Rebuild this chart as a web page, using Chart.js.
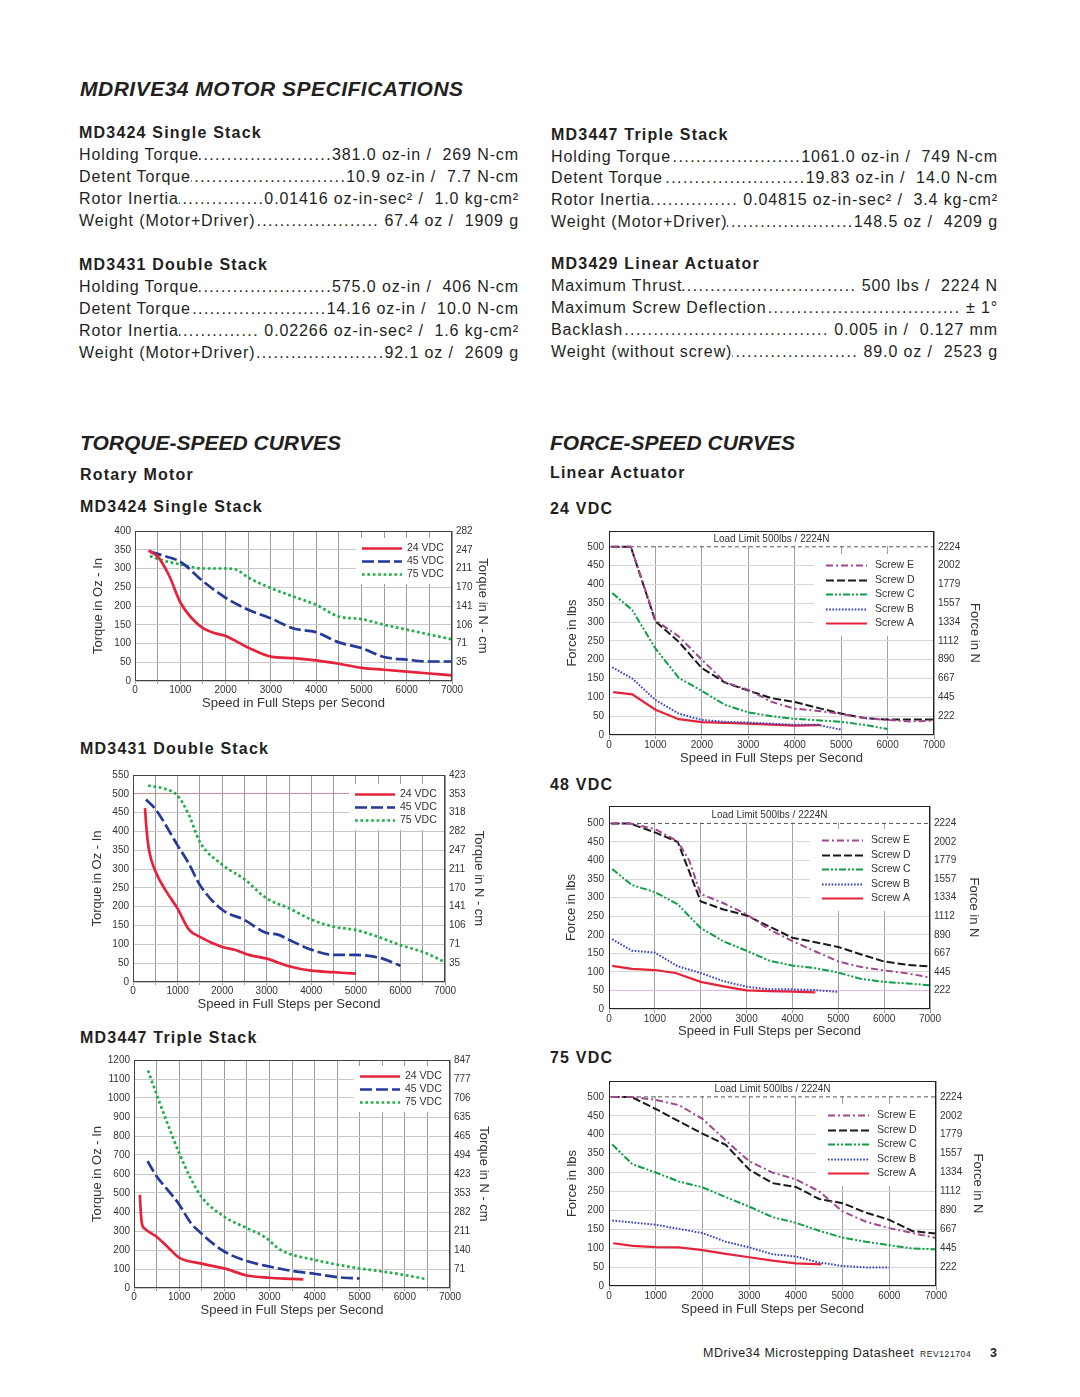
<!DOCTYPE html>
<html>
<head>
<meta charset="utf-8">
<title>MDrive34 Motor Specifications</title>
<script src="https://cdn.jsdelivr.net/npm/chart.js@4/dist/chart.umd.min.js"></script>
<style>
  body { margin: 0; width: 1080px; height: 1397px; position: relative; background: #fff;
         font-family: 'Liberation Sans', Arial, Helvetica, sans-serif; color: #231f20; }
  .abs { position: absolute; white-space: pre; }
  .h1 { font-style: italic; font-weight: bold; font-size: 21px; line-height: 25px; }
  .h2 { font-weight: bold; font-size: 16px; line-height: 19px; letter-spacing: 1.2px; }
  .row { position: absolute; display: flex; font-size: 16px; line-height: 19px; letter-spacing: 0.9px; white-space: pre; }
  .row.l { left: 79px; width: 440px; }
  .row.r { left: 551px; width: 447px; }
  .lead { flex: 1; overflow: hidden; direction: rtl; white-space: nowrap; letter-spacing: 1.4px; }
  .lead::before { content: '................................................................................'; }
  canvas { position: absolute; }
</style>
</head>
<body>

<div class="abs h1" style="left:80px;top:76px;letter-spacing:0.5px">MDRIVE34 MOTOR SPECIFICATIONS</div>

<div class="abs h2" style="left:79px;top:123px">MD3424 Single Stack</div>
<div class="row l" style="top:145px"><span>Holding Torque</span><span class="lead"></span><span>381.0 oz-in /  269 N-cm</span></div>
<div class="row l" style="top:167px"><span>Detent Torque</span><span class="lead"></span><span>10.9 oz-in /  7.7 N-cm</span></div>
<div class="row l" style="top:189px"><span>Rotor Inertia</span><span class="lead"></span><span>0.01416 oz-in-sec² /  1.0 kg-cm²</span></div>
<div class="row l" style="top:211px"><span>Weight (Motor+Driver)</span><span class="lead"></span><span> 67.4 oz /  1909 g</span></div>

<div class="abs h2" style="left:79px;top:255px">MD3431 Double Stack</div>
<div class="row l" style="top:277px"><span>Holding Torque</span><span class="lead"></span><span>575.0 oz-in /  406 N-cm</span></div>
<div class="row l" style="top:299px"><span>Detent Torque</span><span class="lead"></span><span>14.16 oz-in /  10.0 N-cm</span></div>
<div class="row l" style="top:321px"><span>Rotor Inertia</span><span class="lead"></span><span> 0.02266 oz-in-sec² /  1.6 kg-cm²</span></div>
<div class="row l" style="top:343px"><span>Weight (Motor+Driver)</span><span class="lead"></span><span>92.1 oz /  2609 g</span></div>

<div class="abs h2" style="left:551px;top:125px">MD3447 Triple Stack</div>
<div class="row r" style="top:147px"><span>Holding Torque</span><span class="lead"></span><span>1061.0 oz-in /  749 N-cm</span></div>
<div class="row r" style="top:168px"><span>Detent Torque</span><span class="lead"></span><span>19.83 oz-in /  14.0 N-cm</span></div>
<div class="row r" style="top:190px"><span>Rotor Inertia</span><span class="lead"></span><span> 0.04815 oz-in-sec² /  3.4 kg-cm²</span></div>
<div class="row r" style="top:212px"><span>Weight (Motor+Driver)</span><span class="lead"></span><span>148.5 oz /  4209 g</span></div>

<div class="abs h2" style="left:551px;top:254px">MD3429 Linear Actuator</div>
<div class="row r" style="top:276px"><span>Maximum Thrust</span><span class="lead"></span><span> 500 lbs /  2224 N</span></div>
<div class="row r" style="top:298px"><span>Maximum Screw Deflection</span><span class="lead"></span><span> ± 1°</span></div>
<div class="row r" style="top:320px"><span>Backlash</span><span class="lead"></span><span> 0.005 in /  0.127 mm</span></div>
<div class="row r" style="top:342px"><span>Weight (without screw)</span><span class="lead"></span><span> 89.0 oz /  2523 g</span></div>

<div class="abs h1" style="left:80px;top:430px">TORQUE-SPEED CURVES</div>
<div class="abs h2" style="left:80px;top:465px">Rotary Motor</div>
<div class="abs h2" style="left:80px;top:497px">MD3424 Single Stack</div>
<div class="abs h2" style="left:80px;top:739px">MD3431 Double Stack</div>
<div class="abs h2" style="left:80px;top:1028px">MD3447 Triple Stack</div>

<div class="abs h1" style="left:550px;top:430px">FORCE-SPEED CURVES</div>
<div class="abs h2" style="left:550px;top:463px">Linear Actuator</div>
<div class="abs h2" style="left:550px;top:499px">24 VDC</div>
<div class="abs h2" style="left:550px;top:775px">48 VDC</div>
<div class="abs h2" style="left:550px;top:1048px">75 VDC</div>

<canvas id="c3424" width="407" height="195" style="left:87px;top:520px"></canvas>
<canvas id="c3431" width="404" height="252" style="left:86px;top:764px"></canvas>
<canvas id="c3447" width="409" height="273" style="left:86px;top:1049px"></canvas>
<canvas id="f24" width="425" height="250" style="left:561px;top:520px"></canvas>
<canvas id="f48" width="425" height="248" style="left:560px;top:795px"></canvas>
<canvas id="f75" width="428" height="251" style="left:561px;top:1070px"></canvas>

<div class="abs" style="left:703px;top:1346px;font-size:12.5px;letter-spacing:0.5px">MDrive34 Microstepping Datasheet</div>
<div class="abs" style="left:920px;top:1349px;font-size:8.5px;letter-spacing:0.6px">REV121704</div>
<div class="abs" style="left:990px;top:1346px;font-size:12.5px;font-weight:bold">3</div>

<script>
// ---- torque data: [speed in full steps/s, torque in oz-in] ----
const md3424At24 = [[300,348],[500,332],[750,282],[1000,210],[1250,168],[1500,141],[1750,128],[2000,120],[2500,89],[3000,65],[3500,61],[4000,55],[4500,46],[5000,35],[5500,30],[6000,25],[6500,20],[7000,15]];
const md3424At45 = [[330,345],[600,335],[1000,318],[1500,266],[2000,222],[2500,190],[3000,167],[3500,140],[4000,130],[4500,103],[5000,88],[5500,64],[6000,57],[6500,52],[7000,52]];
const md3424At75 = [[330,333],[600,322],[1000,311],[1500,300],[2000,300],[2250,296],[2500,276],[3000,248],[3500,225],[4000,203],[4500,172],[5000,165],[5500,150],[6000,137],[6500,124],[7000,111]];

const md3431At24 = [[270,462],[300,410],[360,350],[500,295],[750,240],[1000,195],[1250,140],[1500,120],[2000,93],[2300,85],[2600,72],[3000,62],[3500,42],[4000,30],[4500,26],[5000,22]];
const md3431At45 = [[290,485],[500,460],[1000,363],[1250,315],[1500,258],[2000,192],[2500,165],[3000,130],[3250,126],[3500,112],[4000,86],[4500,72],[5000,72],[5250,70],[5600,62],[6000,43]];
const md3431At75 = [[340,522],[750,512],[1000,495],[1250,445],[1500,372],[2000,312],[2500,273],[3000,222],[3500,196],[4000,166],[4500,147],[5000,138],[5500,120],[6000,98],[6500,80],[7000,53]];

const md3447At24 = [[130,490],[150,400],[175,340],[250,310],[500,270],[750,215],[1000,160],[1500,128],[2000,103],[2500,66],[3000,54],[3500,48],[3750,45]];
const md3447At45 = [[300,668],[500,588],[750,515],[1000,440],[1250,345],[1500,285],[2000,192],[2500,142],[3000,113],[3500,90],[4000,75],[4500,57],[5000,50]];
const md3447At75 = [[310,1145],[500,1020],[750,860],[1000,710],[1250,580],[1500,478],[2000,375],[2500,315],[2900,268],[3250,200],[4000,148],[5000,103],[5500,87],[6000,68],[6450,48]];

// right axis labels (N-cm), one per left tick starting at 0
const md3424Newton = ['', '35', '71', '106', '141', '170', '211', '247', '282'];
const md3431Newton = ['', '35', '71', '106', '141', '170', '211', '247', '282', '318', '353', '423'];
const md3447Newton = ['', '71', '140', '211', '282', '353', '423', '494', '465', '635', '706', '777', '847'];

// ---- force data: [speed in full steps/s, force in lbs] ----
const vdc24ScrewE = [[50,500],[470,500],[1000,305],[1500,262],[2000,200],[2500,140],[3000,120],[3500,88],[4000,70],[4500,64],[5000,56],[5500,45],[6000,40],[6500,36],[7000,38]];
const vdc24ScrewD = [[50,500],[470,500],[1000,302],[1500,248],[2000,178],[2500,139],[3000,118],[3500,98],[4000,88],[4500,72],[5000,57],[5500,45],[6000,41],[7000,41]];
const vdc24ScrewC = [[70,377],[500,332],[1000,230],[1500,152],[2000,117],[2500,80],[3000,60],[3500,50],[4000,43],[4500,39],[5000,35],[5500,27],[6000,16]];
const vdc24ScrewB = [[70,180],[500,150],[1000,93],[1500,57],[2000,40],[2500,35],[3000,33],[3500,30],[4000,27],[4500,27],[5000,14]];
const vdc24ScrewA = [[90,114],[500,108],[1000,67],[1500,42],[2000,34],[3000,30],[4000,25],[4550,26]];

const vdc48ScrewE = [[50,500],[450,500],[1000,485],[1500,452],[1750,400],[2000,310],[2500,285],[3000,255],[3500,214],[4000,183],[4500,155],[5000,128],[5500,113],[6000,104],[6500,96],[7000,85]];
const vdc48ScrewD = [[50,500],[450,500],[1000,476],[1500,450],[1750,370],[2000,290],[2500,268],[3000,252],[3500,222],[4000,192],[4500,180],[5000,167],[5500,147],[6000,128],[6500,119],[7000,115]];
const vdc48ScrewC = [[70,377],[500,334],[1000,315],[1500,282],[2000,218],[2500,182],[3000,157],[3500,130],[4000,117],[4500,110],[5000,98],[5500,81],[6000,73],[6500,69],[7000,64]];
const vdc48ScrewB = [[70,188],[500,157],[1000,152],[1500,115],[2000,97],[2500,75],[3000,60],[3500,53],[4000,53],[4500,51],[5000,46]];
const vdc48ScrewA = [[70,116],[500,108],[1000,105],[1450,97],[2000,73],[2500,61],[3000,50],[3500,48],[4000,47],[4500,45]];

const vdc75ScrewE = [[50,500],[480,500],[1000,492],[1500,478],[2000,442],[2500,385],[3000,330],[3500,300],[4000,282],[4500,250],[5000,197],[5500,170],[6000,153],[6500,140],[7000,127]];
const vdc75ScrewD = [[50,500],[480,500],[1000,468],[1500,435],[2000,403],[2500,373],[3000,308],[3500,272],[4000,262],[4500,230],[5000,219],[5500,194],[6000,175],[6500,145],[7000,139]];
const vdc75ScrewC = [[70,374],[500,322],[1000,300],[1500,276],[2000,261],[2500,235],[3000,210],[3500,182],[4000,167],[4500,146],[5000,128],[5500,117],[6000,108],[6500,99],[7000,97]];
const vdc75ScrewB = [[70,173],[500,168],[1000,162],[1500,151],[2000,140],[2500,117],[3000,102],[3500,84],[4000,78],[4500,62],[5000,53],[5500,49],[6000,49]];
const vdc75ScrewA = [[90,113],[500,106],[1000,103],[1500,102],[2000,95],[2500,85],[3000,76],[3500,67],[4000,60],[4550,57]];

const loadLimit = [[0,500],[7000,500]];
const forceTicks = [0, 50, 100, 150, 200, 250, 300, 350, 400, 450, 500];
const forceNewton = ['', '222', '445', '667', '890', '1112', '1334', '1557', '1779', '2002', '2224'];

const FONT = "'Liberation Sans', Arial, Helvetica, sans-serif";
Chart.defaults.font.family = FONT;
Chart.defaults.font.size = 10;
Chart.defaults.color = '#333';

const pts = arr => arr.map(p => ({ x: p[0], y: p[1] }));

// box around the plot area
const framePlugin = {
    id: 'frame',
    afterDatasetsDraw(chart, args, opts) {
        const a = chart.chartArea, ctx = chart.ctx;
        ctx.save();
        ctx.strokeStyle = opts.color || '#333';
        ctx.lineWidth = 1;
        ctx.setLineDash([]);
        ctx.strokeRect(Math.round(a.left) + 0.5, Math.round(a.top) + 0.5, Math.round(a.width) - 1, Math.round(a.height) - 1);
        ctx.restore();
    }
};

// load limit caption above the 500 lbs line (grid stops at the limit)
const loadLabelPlugin = {
    id: 'loadLabel',
    beforeDatasetsDraw(chart, args, opts) {
        if (!opts.text) return;
        const a = chart.chartArea, ctx = chart.ctx;
        const y = chart.scales.y.getPixelForValue(500);
        ctx.save();
        ctx.fillStyle = '#fff';
        ctx.fillRect(a.left, a.top, a.width, y - a.top - 1);
        ctx.restore();
    },
    afterDatasetsDraw(chart, args, opts) {
        if (!opts.text) return;
        const a = chart.chartArea, ctx = chart.ctx;
        const y = chart.scales.y.getPixelForValue(500);
        ctx.save();
        ctx.fillStyle = '#333';
        ctx.font = '10px ' + FONT;
        ctx.textAlign = 'center';
        ctx.textBaseline = 'middle';
        ctx.fillText(opts.text, (a.left + a.right) / 2, y - 8);
        ctx.restore();
    }
};

// in-plot legend drawn with each dataset's own line style
const lineLegendPlugin = {
    id: 'lineLegend',
    afterDraw(chart, args, o) {
        if (!o.rowH) return;
        const a = chart.chartArea, ctx = chart.ctx;
        ctx.save();
        ctx.fillStyle = '#fff';
        ctx.fillRect(a.right - o.boxW, a.top + o.boxTop, o.boxW - 1, o.boxH);
        ctx.font = '10.5px ' + FONT;
        ctx.textBaseline = 'middle';
        let row = 0;
        chart.data.datasets.forEach(ds => {
            if (ds.noLegend) return;
            const y = Math.round(a.top + o.rowTop + row * o.rowH) + 0.5;
            ctx.beginPath();
            ctx.setLineDash(ds.borderDash || []);
            ctx.strokeStyle = ds.borderColor;
            ctx.lineWidth = ds.borderWidth;
            ctx.moveTo(a.right - o.lineFrom, y);
            ctx.lineTo(a.right - o.lineTo, y);
            ctx.stroke();
            ctx.setLineDash([]);
            ctx.fillStyle = '#333';
            ctx.fillText(ds.label, a.right - o.textAt, y);
            row++;
        });
        ctx.restore();
    }
};

Chart.register(framePlugin, loadLabelPlugin, lineLegendPlugin);

function torqueLine(label, data, color, dash) {
    return { label: label, data: pts(data), borderColor: color, borderWidth: 2.7, borderDash: dash,
             pointRadius: 0, fill: false, cubicInterpolationMode: 'monotone' };
}

function forceLine(label, data, color, dash, width) {
    return { label: label, data: pts(data), borderColor: color, borderWidth: width, borderDash: dash,
             pointRadius: 0, fill: false, tension: 0 };
}

function axisTitle(text) {
    return { display: true, text: text, color: '#333', font: { size: 13 }, padding: 4 };
}

function torqueChart(id, yMax, yStep, newton, box, gridColor) {
    new Chart(document.getElementById(id), {
        type: 'line',
        data: { datasets: box.datasets },
        options: {
            responsive: false,
            animation: false,
            layout: { padding: { top: box.padTop, left: 0, right: 0, bottom: 0 } },
            plugins: {
                legend: { display: false },
                tooltip: { enabled: false },
                frame: { color: '#444' },
                lineLegend: { boxW: 96, boxTop: box.rowTop - 10, boxH: 46, rowTop: box.rowTop, rowH: 13,
                              lineFrom: 90, lineTo: 50, textAt: 45 }
            },
            scales: {
                x: {
                    type: 'linear', min: 0, max: 7000,
                    afterFit: s => { s.height = box.xH; },
                    ticks: { stepSize: 500, autoSkip: false, maxRotation: 0, padding: 0,
                             callback: v => (v % 1000 === 0 ? String(v) : '') },
                    grid: { color: '#9a9a9a', tickLength: 3 },
                    border: { display: false },
                    title: axisTitle('Speed in Full Steps per Second')
                },
                y: {
                    min: 0, max: yMax,
                    afterFit: s => { s.width = box.yL; },
                    ticks: { stepSize: yStep, padding: 4, callback: v => String(v) },
                    grid: { color: gridColor, drawTicks: false },
                    border: { display: false },
                    title: axisTitle('Torque in Oz - In')
                },
                y2: {
                    position: 'right', min: 0, max: yMax,
                    afterFit: s => { s.width = box.yR; },
                    ticks: { stepSize: yStep, padding: 4, callback: (v, i) => newton[i] },
                    grid: { drawOnChartArea: false, drawTicks: false },
                    border: { display: false },
                    title: axisTitle('Torque in N - cm')
                }
            }
        }
    });
}

function forceChart(id, yMax, box, series, gridColor) {
    const datasets = [
        forceLine('Screw E', series[4], '#a3468f', [7, 3, 2, 3], 2),
        forceLine('Screw D', series[3], '#1a1a1a', [8, 3], 2),
        forceLine('Screw C', series[2], '#0f9f45', [7, 2, 2, 2, 2, 2], 2),
        forceLine('Screw B', series[1], '#3442c4', [1.6, 1.6], 2),
        forceLine('Screw A', series[0], '#e5233b', [], 2.2)
    ];
    const limit = forceLine('Load Limit', loadLimit, '#555', [4, 3], 1);
    limit.noLegend = true;
    datasets.push(limit);

    new Chart(document.getElementById(id), {
        type: 'line',
        data: { datasets: datasets },
        options: {
            responsive: false,
            animation: false,
            layout: { padding: { top: box.padTop, left: 0, right: 0, bottom: 0 } },
            plugins: {
                legend: { display: false },
                tooltip: { enabled: false },
                frame: { color: '#222' },
                loadLabel: { text: 'Load Limit 500lbs / 2224N' },
                lineLegend: { boxW: 120, boxTop: 23, boxH: 82, rowTop: 34, rowH: 14.6,
                              lineFrom: 108, lineTo: 67, textAt: 59 }
            },
            scales: {
                x: {
                    type: 'linear', min: 0, max: 7000,
                    afterFit: s => { s.height = box.xH; },
                    ticks: { stepSize: 1000, autoSkip: false, maxRotation: 0, padding: 0, callback: v => String(v) },
                    grid: { color: '#a0a0a0', tickLength: 4 },
                    border: { display: false },
                    title: axisTitle('Speed in Full Steps per Second')
                },
                y: {
                    min: 0, max: yMax,
                    afterFit: s => { s.width = box.yL; },
                    afterBuildTicks: s => { s.ticks = forceTicks.map(v => ({ value: v })); },
                    ticks: { padding: 5, callback: v => String(v) },
                    grid: { color: gridColor, drawTicks: false },
                    border: { display: false },
                    title: axisTitle('Force in lbs')
                },
                y2: {
                    position: 'right', min: 0, max: yMax,
                    afterFit: s => { s.width = box.yR; },
                    afterBuildTicks: s => { s.ticks = forceTicks.map(v => ({ value: v })); },
                    ticks: { padding: 4, callback: (v, i) => forceNewton[i] },
                    grid: { drawOnChartArea: false, drawTicks: false },
                    border: { display: false },
                    title: axisTitle('Force in N')
                }
            }
        }
    });
}

const RED = '#e5233b', NAVY = '#24399a', GREEN = '#1fae48';

torqueChart('c3424', 400, 50, md3424Newton,
    { padTop: 11, xH: 34, yL: 48, yR: 42, rowTop: 17,
      datasets: [torqueLine('24 VDC', md3424At24, RED, []),
                 torqueLine('45 VDC', md3424At45, NAVY, [12, 4]),
                 torqueLine('75 VDC', md3424At75, GREEN, [2.7, 2.7])] },
    '#c8c8c8');

torqueChart('c3431', 550, 50, md3431Newton,
    { padTop: 11, xH: 34, yL: 47, yR: 45, rowTop: 19,
      datasets: [torqueLine('24 VDC', md3431At24, RED, []),
                 torqueLine('45 VDC', md3431At45, NAVY, [12, 4]),
                 torqueLine('75 VDC', md3431At75, GREEN, [2.7, 2.7])] },
    c => (c.tick && c.tick.value === 500 ? '#c98f8f' : '#c8c8c8'));

torqueChart('c3447', 1200, 100, md3447Newton,
    { padTop: 11, xH: 34, yL: 48, yR: 45, rowTop: 16,
      datasets: [torqueLine('24 VDC', md3447At24, RED, []),
                 torqueLine('45 VDC', md3447At45, NAVY, [12, 4]),
                 torqueLine('75 VDC', md3447At75, GREEN, [2.7, 2.7])] },
    '#c8c8c8');

const forceGrid = c => (c.tick && c.tick.value === 500 ? 'rgba(0,0,0,0)' : '#d8d8d8');

forceChart('f24', 542, { padTop: 7, xH: 35, yL: 48, yR: 52 },
    [vdc24ScrewA, vdc24ScrewB, vdc24ScrewC, vdc24ScrewD, vdc24ScrewE], forceGrid);

forceChart('f48', 547, { padTop: 6, xH: 34, yL: 49, yR: 55 },
    [vdc48ScrewA, vdc48ScrewB, vdc48ScrewC, vdc48ScrewD, vdc48ScrewE],
    c => (c.tick && c.tick.value === 50 ? '#e6b6e6' : forceGrid(c)));

forceChart('f75', 542, { padTop: 6, xH: 35, yL: 48, yR: 53 },
    [vdc75ScrewA, vdc75ScrewB, vdc75ScrewC, vdc75ScrewD, vdc75ScrewE], forceGrid);
</script>
</body>
</html>
